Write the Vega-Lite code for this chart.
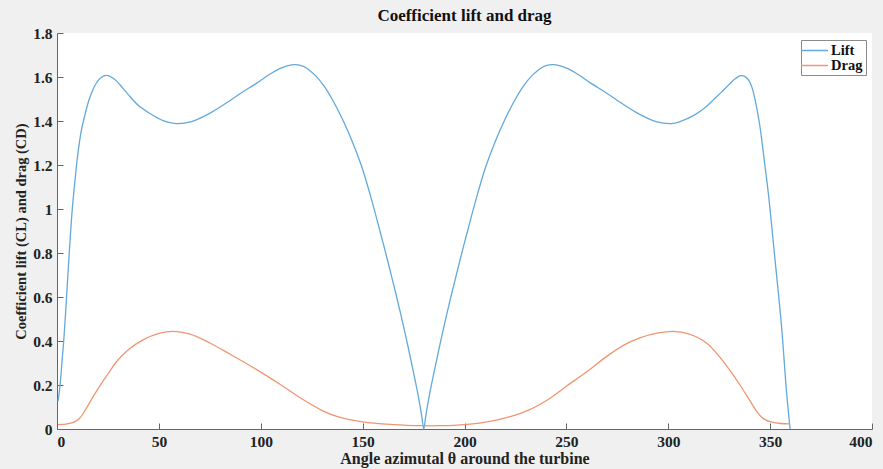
{
  "$schema": "https://vega.github.io/schema/vega-lite/v6.json",
  "width": 815,
  "height": 396,
  "autosize": {"type": "none"},
  "padding": {"left": 57, "top": 33, "right": 11, "bottom": 40},
  "background": "#f0f0f0",
  "title": {"text": "Coefficient lift and drag", "font": "Liberation Serif", "fontWeight": "bold", "fontSize": 17, "color": "#111", "frame": "group", "anchor": "middle", "offset": 1},
  "datasets": {
    "lift": [
      {"t":0.5,"v":0.125},{"t":1.5,"v":0.2},{"t":2.4,"v":0.3},{"t":3.3,"v":0.4},{"t":4.7,"v":0.6},{"t":6,"v":0.8},{"t":7.5,"v":1.0},{"t":8.5,"v":1.1},{"t":9.6,"v":1.2},{"t":10.5,"v":1.27},{"t":12,"v":1.36},{"t":13.5,"v":1.42},{"t":15.5,"v":1.49},{"t":17.5,"v":1.54},{"t":19.5,"v":1.575},{"t":21.5,"v":1.597},{"t":24.4,"v":1.607},{"t":27,"v":1.598},{"t":29.5,"v":1.579},{"t":32,"v":1.553},{"t":35,"v":1.52},{"t":40,"v":1.47},{"t":45.6,"v":1.434},{"t":52,"v":1.402},{"t":58.5,"v":1.388},{"t":66,"v":1.397},{"t":74,"v":1.43},{"t":82,"v":1.475},{"t":90,"v":1.525},{"t":98,"v":1.572},{"t":104,"v":1.61},{"t":109,"v":1.637},{"t":113,"v":1.651},{"t":117,"v":1.656},{"t":121,"v":1.648},{"t":124,"v":1.63},{"t":127,"v":1.605},{"t":131,"v":1.56},{"t":135,"v":1.5},{"t":140,"v":1.41},{"t":145,"v":1.305},{"t":149.5,"v":1.194},{"t":154,"v":1.055},{"t":158.5,"v":0.9},{"t":162,"v":0.775},{"t":166.7,"v":0.6},{"t":170,"v":0.47},{"t":174,"v":0.3},{"t":177,"v":0.165},{"t":179,"v":0.06},{"t":180,"v":0},{"t":181,"v":0.06},{"t":183,"v":0.165},{"t":186,"v":0.3},{"t":190,"v":0.47},{"t":193.3,"v":0.6},{"t":198,"v":0.775},{"t":201.5,"v":0.9},{"t":206,"v":1.055},{"t":210.5,"v":1.194},{"t":215,"v":1.305},{"t":220,"v":1.41},{"t":225,"v":1.5},{"t":229,"v":1.56},{"t":233,"v":1.605},{"t":236,"v":1.63},{"t":239,"v":1.648},{"t":243,"v":1.656},{"t":247,"v":1.651},{"t":251,"v":1.637},{"t":256,"v":1.61},{"t":262,"v":1.572},{"t":270,"v":1.525},{"t":278,"v":1.475},{"t":286,"v":1.43},{"t":294,"v":1.397},{"t":301.5,"v":1.388},{"t":306,"v":1.398},{"t":313,"v":1.428},{"t":318,"v":1.46},{"t":322,"v":1.495},{"t":326,"v":1.53},{"t":330,"v":1.567},{"t":333,"v":1.593},{"t":335.5,"v":1.606},{"t":337.5,"v":1.603},{"t":339.5,"v":1.585},{"t":341,"v":1.555},{"t":342.6,"v":1.497},{"t":345,"v":1.375},{"t":347,"v":1.23},{"t":349.1,"v":1.073},{"t":352.4,"v":0.77},{"t":355.6,"v":0.466},{"t":358.1,"v":0.164},{"t":359.8,"v":0}
    ],
    "drag": [
      {"t":0.5,"v":0.02},{"t":5,"v":0.023},{"t":8,"v":0.03},{"t":11,"v":0.048},{"t":14,"v":0.088},{"t":17.8,"v":0.148},{"t":22,"v":0.21},{"t":25,"v":0.25},{"t":29.3,"v":0.307},{"t":35,"v":0.36},{"t":42.4,"v":0.406},{"t":50,"v":0.435},{"t":57,"v":0.444},{"t":65,"v":0.432},{"t":75,"v":0.391},{"t":85,"v":0.34},{"t":98,"v":0.27},{"t":110,"v":0.2},{"t":120.9,"v":0.133},{"t":130,"v":0.085},{"t":137.3,"v":0.057},{"t":150,"v":0.032},{"t":165,"v":0.02},{"t":180,"v":0.015},{"t":188,"v":0.015},{"t":200,"v":0.02},{"t":212.5,"v":0.035},{"t":222,"v":0.055},{"t":232,"v":0.088},{"t":242,"v":0.14},{"t":250,"v":0.194},{"t":260,"v":0.26},{"t":269.8,"v":0.33},{"t":278,"v":0.38},{"t":286,"v":0.414},{"t":295,"v":0.437},{"t":302.5,"v":0.444},{"t":310,"v":0.432},{"t":318.9,"v":0.39},{"t":325,"v":0.33},{"t":330,"v":0.27},{"t":335.2,"v":0.2},{"t":340,"v":0.13},{"t":343.4,"v":0.08},{"t":346,"v":0.052},{"t":348,"v":0.04},{"t":350,"v":0.033},{"t":355,"v":0.025},{"t":359.8,"v":0.023}
    ]
  },
  "layer": [
    {
      "data": {"name": "lift"},
      "transform": [{"calculate": "'Lift'", "as": "s"}],
      "mark": {"type": "line", "interpolate": "catmull-rom", "strokeWidth": 1.3}
    },
    {
      "data": {"name": "drag"},
      "transform": [{"calculate": "'Drag'", "as": "s"}],
      "mark": {"type": "line", "interpolate": "catmull-rom", "strokeWidth": 1.3}
    }
  ],
  "encoding": {
    "x": {"field": "t", "type": "quantitative",
      "scale": {"domain": [0, 400], "nice": false, "zero": false},
      "axis": {"title": "Angle azimutal θ around the turbine", "values": [0,50,100,150,200,250,300,350,400], "format": "d", "titlePadding": 1, "titleFontSize": 16}},
    "y": {"field": "v", "type": "quantitative",
      "scale": {"domain": [0, 1.8], "nice": false},
      "axis": {"title": "Coefficient lift (CL) and drag (CD)", "values": [0,0.2,0.4,0.6,0.8,1,1.2,1.4,1.6,1.8], "format": "~g", "titlePadding": 4, "titleFontSize": 14.5}},
    "color": {"field": "s", "type": "nominal",
      "scale": {"domain": ["Lift", "Drag"], "range": ["#62a9dc", "#ef9671"]},
      "legend": {"title": null, "orient": "none", "legendX": 744, "legendY": 7, "symbolType": "M-2,0H2", "symbolSize": 182, "symbolStrokeWidth": 1.5, "symbolOffset": 3, "fillColor": "white", "strokeColor": "#8a8a8a", "padding": 3, "rowPadding": 0, "labelFont": "Liberation Serif", "labelFontWeight": "bold", "labelFontSize": 14.5, "labelColor": "#111", "labelOffset": 9}}
  },
  "config": {
    "view": {"fill": "white", "stroke": null},
    "axis": {
      "grid": false,
      "domainColor": "#666",
      "tickColor": "#666",
      "tickSize": -6,
      "labelPadding": 11,
      "labelFont": "Liberation Serif",
      "labelFontWeight": "bold",
      "labelFontSize": 15.5,
      "labelColor": "#222",
      "titleFont": "Liberation Serif",
      "titleFontWeight": "bold",
      "titleColor": "#222"
    }
  }
}
